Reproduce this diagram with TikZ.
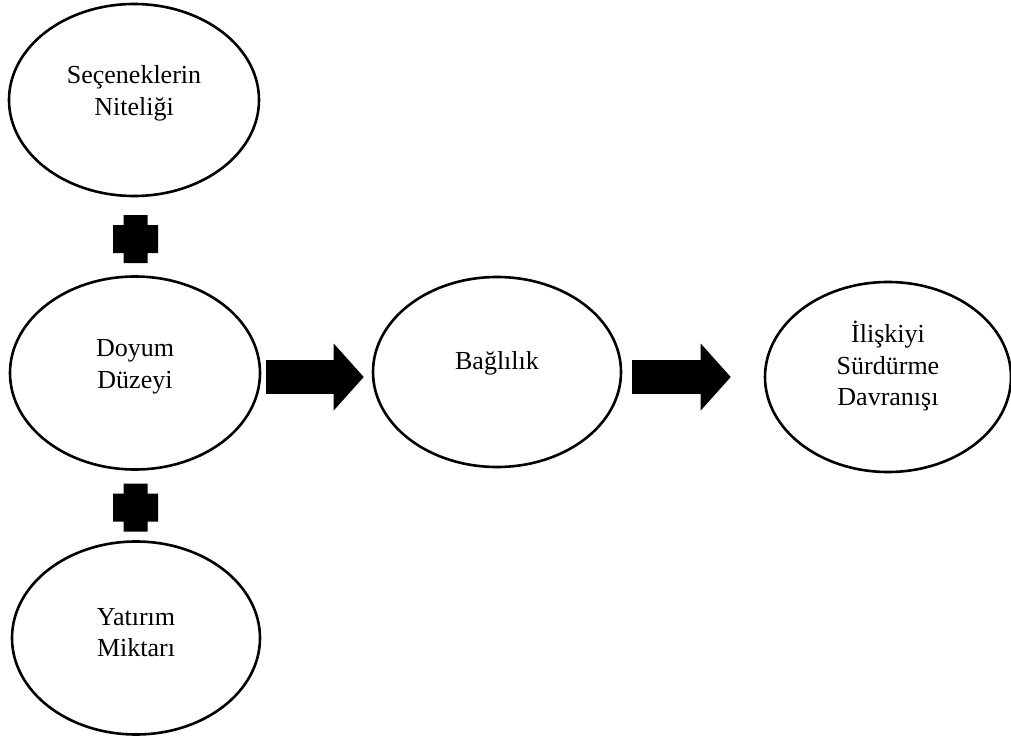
\documentclass[tikz,border=0pt]{standalone}
\usepackage{fontspec}
\setmainfont{Liberation Serif}
\usetikzlibrary{shapes.geometric,arrows.meta,calc}
\tikzset{
  oval/.style={draw=black,line width=2.6pt,ellipse,inner sep=0pt},
  txt/.style={align=center,font=\fontsize{26}{31.5}\selectfont,inner sep=0pt},
  fatarrow/.style={line width=34pt,-{Triangle[length=30pt,width=67pt,line width=0pt]}},
  plusmark/.pic={\fill[black] (-12,-24) -- (12,-24) -- (12,-14) -- (22.5,-14) -- (22.5,14) -- (12,14) -- (12,24) -- (-12,24) -- (-12,14) -- (-22.5,14) -- (-22.5,-14) -- (-12,-14) -- cycle;}
}
\begin{document}
\begin{tikzpicture}[x=1pt,y=-1pt]
\useasboundingbox (0,0) rectangle (1011,738);
\node[oval,minimum width=250pt,minimum height=192pt] (e1) at (134,100) {};
\node[oval,minimum width=250pt,minimum height=193pt] (e2) at (135,373) {};
\node[oval,minimum width=248pt,minimum height=190pt] (e3) at (497,372) {};
\node[oval,minimum width=246pt,minimum height=190pt] (e4) at (888,377) {};
\node[oval,minimum width=248pt,minimum height=193pt] (e5) at (136,638) {};
\node[txt] (t1) at ($(e1.center)+(0,-6.5)$) {Seçeneklerin\\Niteliği};
\node[txt] (t2) at ($(e2.center)+(0,-6)$) {Doyum\\Düzeyi};
\node[txt] (t3) at ($(e3.center)+(0,-9)$) {Bağlılık};
\node[txt] (t4) at ($(e4.center)+(0,-10.5)$) {İlişkiyi\\Sürdürme\\Davranışı};
\node[txt] (t5) at ($(e5.center)+(0,-5.5)$) {Yatırım\\Miktarı};
\pic at (135.5,239) {plusmark};
\pic at (135.5,507.5) {plusmark};
\coordinate (a1s) at ($(e2.east)+(5,4)$);
\coordinate (a1e) at ($(e3.west)+(-8,5)$);
\coordinate (a2s) at ($(e3.east)+(10,5)$);
\coordinate (a2e) at ($(e4.west)+(-33,0)$);
\draw[fatarrow] (a1s) -- (a1e);
\draw[fatarrow] (a2s) -- (a2e);
\end{tikzpicture}
\end{document}
